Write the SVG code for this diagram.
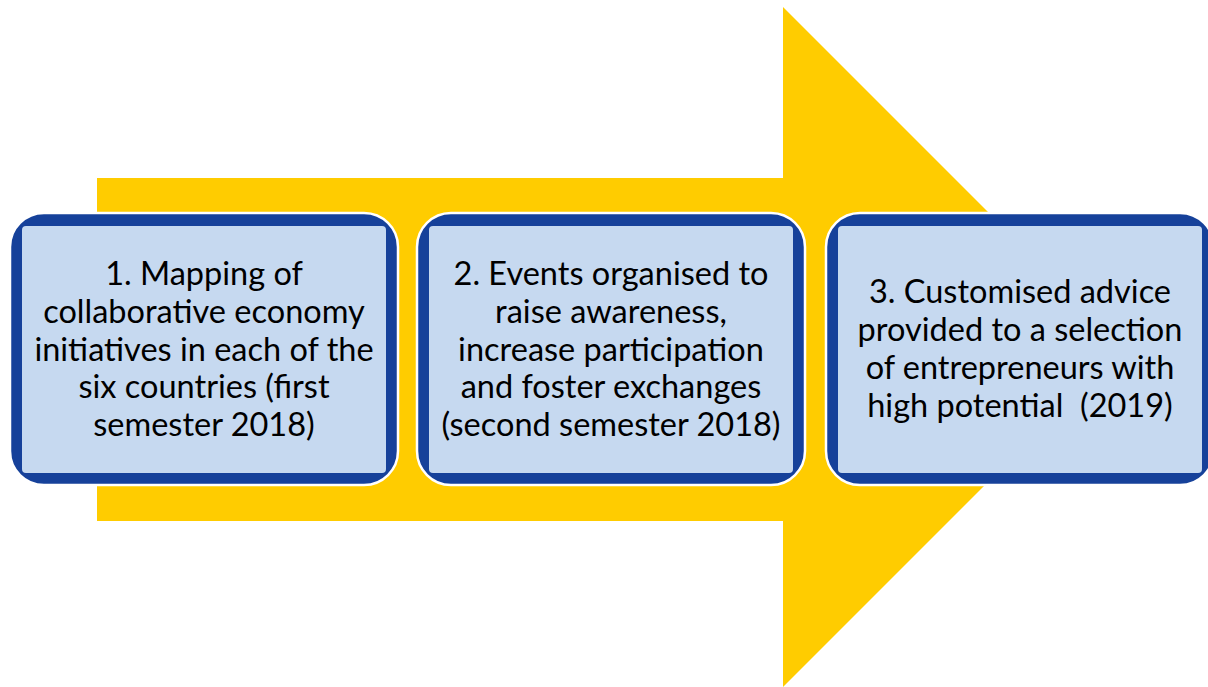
<svg xmlns="http://www.w3.org/2000/svg" width="1208" height="687" viewBox="0 0 1208 687">
  <style>
    .frame { fill: #16419a; stroke: #ffffff; stroke-width: 2.5; }
    .panel { fill: #c6d9f0; }
    .label { font-family: Lato, "Open Sans", "Liberation Sans", sans-serif; font-size: 32.5px; fill: #000000; text-anchor: middle; white-space: pre; }
  </style>
  <rect width="1208" height="687" fill="#ffffff"/>

  <!-- big yellow process arrow -->
  <g id="arrow">
    <polygon points="97,178 783,178 783,7 1123,347 783,687 783,521 97,521" fill="#ffcc00"/>
  </g>

  <!-- step 1 -->
  <g id="step1">
    <rect class="frame" x="10" y="213" width="388" height="272" rx="34" ry="34"/>
    <rect class="panel" x="22" y="226" width="364" height="247" rx="4" ry="4"/>
    <text class="label" x="204" y="285">1. Mapping of</text>
    <text class="label" x="204" y="323">collaborative economy</text>
    <text class="label" x="204" y="361">initiatives in each of the</text>
    <text class="label" x="204" y="398">six countries (first</text>
    <text class="label" x="204" y="436">semester 2018)</text>
  </g>

  <!-- step 2 -->
  <g id="step2">
    <rect class="frame" x="417" y="213" width="388" height="272" rx="34" ry="34"/>
    <rect class="panel" x="429" y="226" width="364" height="247" rx="4" ry="4"/>
    <text class="label" x="611" y="285">2. Events organised to</text>
    <text class="label" x="611" y="323">raise awareness,</text>
    <text class="label" x="611" y="361">increase participation</text>
    <text class="label" x="611" y="398">and foster exchanges</text>
    <text class="label" x="611" y="436">(second semester 2018)</text>
  </g>

  <!-- step 3 -->
  <g id="step3">
    <rect class="frame" x="826" y="213" width="388" height="272" rx="34" ry="34"/>
    <rect class="panel" x="838" y="226" width="364" height="247" rx="4" ry="4"/>
    <text class="label" x="1020" y="303">3. Customised advice</text>
    <text class="label" x="1020" y="341">provided to a selection</text>
    <text class="label" x="1020" y="379">of entrepreneurs with</text>
    <text class="label" x="1020" y="417">high potential&#160; (2019)</text>
  </g>
</svg>
